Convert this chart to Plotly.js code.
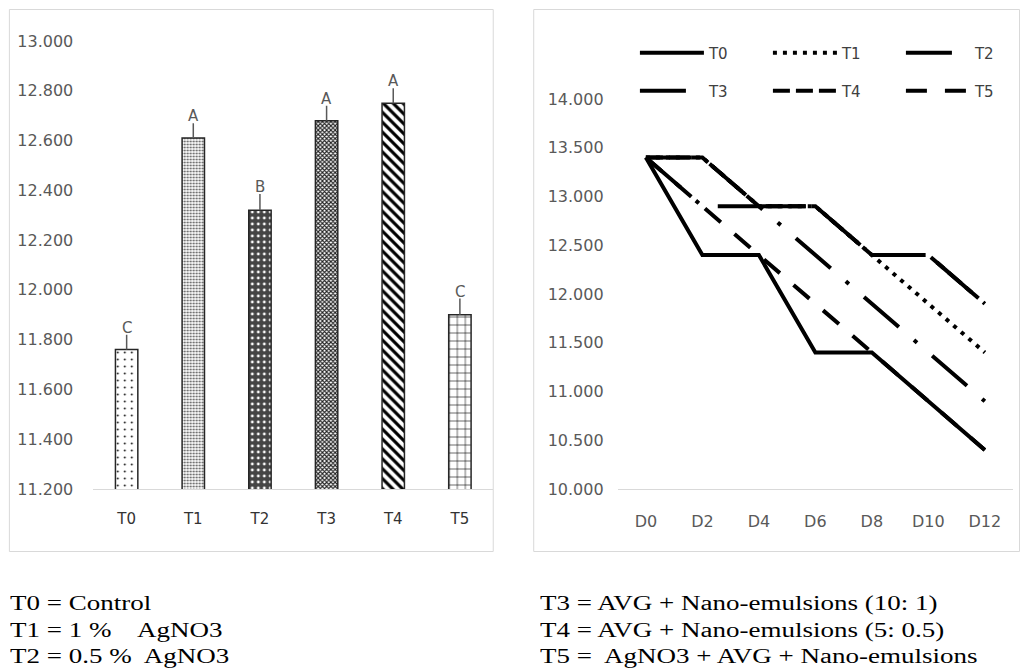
<!DOCTYPE html>
<html>
<head>
<meta charset="utf-8">
<script src="https://cdn.plot.ly/plotly-3.0.1.min.js"></script>
<style>
  html, body { margin: 0; padding: 0; background: #ffffff; overflow: hidden; }
  #wrap { position: relative; width: 1034px; height: 669px; overflow: hidden; background: #fff; }
  #chart { position: absolute; left: 0; top: 0; width: 1034px; height: 560px; }
  .cap { position: absolute; font-family: "Liberation Serif", "Times New Roman", serif; font-size: 20px;
         line-height: 20px; color: #000; white-space: pre; transform: scaleX(1.35); transform-origin: 0 0; }
</style>
</head>
<body>
<div id="wrap">
  <div id="chart"></div>
  <div class="cap" style="left:10px; top:593px;">T0 = Control</div>
  <div class="cap" style="left:10px; top:620px;">T1 = 1 %    AgNO3</div>
  <div class="cap" style="left:10px; top:646px;">T2 = 0.5 %  AgNO3</div>
  <div class="cap" style="left:540px; top:593px;">T3 = AVG + Nano-emulsions (10: 1)</div>
  <div class="cap" style="left:540px; top:620px;">T4 = AVG + Nano-emulsions (5: 0.5)</div>
  <div class="cap" style="left:540px; top:646px;">T5 =  AgNO3 + AVG + Nano-emulsions</div>
</div>
<script>
// ---------- data: left bar chart ----------
const barCategories = ['T0', 'T1', 'T2', 'T3', 'T4', 'T5'];
const barValues = [11.76, 12.61, 12.32, 12.68, 12.75, 11.90];
const barErrors = [0.06, 0.06, 0.065, 0.06, 0.06, 0.065];
const barLetters = ['C', 'A', 'B', 'A', 'A', 'C'];
const leftTickValues = [11.2, 11.4, 11.6, 11.8, 12.0, 12.2, 12.4, 12.6, 12.8, 13.0];

// ---------- data: right line chart ----------
const days = ['D0', 'D2', 'D4', 'D6', 'D8', 'D10', 'D12'];
const seriesNames = ['T0', 'T1', 'T2', 'T3', 'T4', 'T5'];
const lineT0 = [13.4, 12.4, 12.4, 11.4, 11.4, 10.9, 10.4];
const lineT1 = [13.4, 13.4, 12.9, 12.9, 12.4, 11.9, 11.4];
const lineT2 = [13.4, 13.4, 12.9, 12.9, 12.4, 12.4, 11.9];
const lineT3 = [13.4, 12.9, 12.9, 12.4, 11.9, 11.4, 10.9];
const lineT4 = [13.4, 13.4, 12.9, 12.9, 12.4, 12.4, 11.9];
const lineT5 = [13.4, 12.9, 12.4, 11.9, 11.4, 10.9, 10.4];
const rightTickValues = [10, 10.5, 11, 11.5, 12, 12.5, 13, 13.5, 14];

// ---------- styling ----------
const W = 1034, H = 560;
const px = v => v / W;
const py = v => 1 - v / H;
const tickFont = { family: 'DejaVu Sans, Verdana, sans-serif', size: 16, color: '#595959' };

const barPatterns = [
  { shape: '.',  bgcolor: '#ffffff', fgcolor: '#000000', size: 7, solidity: 0.05 },
  { shape: '.',  bgcolor: '#ffffff', fgcolor: '#555555', size: 3, solidity: 0.35 },
  { shape: '.',  bgcolor: '#454545', fgcolor: '#ffffff', size: 6, solidity: 0.18 },
  { shape: 'x',  bgcolor: '#ffffff', fgcolor: '#222222', size: 3, solidity: 0.6 },
  { shape: '\\', bgcolor: '#ffffff', fgcolor: '#000000', size: 7, solidity: 0.45 },
  { shape: '+',  bgcolor: '#ffffff', fgcolor: '#000000', size: 8, solidity: 0.14 }
];

const barTraces = barCategories.map((c, i) => ({
  type: 'bar', x: [c], y: [barValues[i]], xaxis: 'x', yaxis: 'y',
  width: 0.336, showlegend: false, hoverinfo: 'skip',
  marker: {
    color: barPatterns[i].bgcolor,
    line: { color: '#262626', width: 1.5 },
    pattern: Object.assign({ fillmode: 'replace' }, barPatterns[i])
  },
  error_y: { type: 'data', symmetric: false, array: [barErrors[i]], arrayminus: [0],
             color: '#595959', thickness: 1.5, width: 0 }
}));

const lineSeries = [lineT0, lineT1, lineT2, lineT3, lineT4, lineT5];
const dashes = ['solid', '4px,6px', '46px,20px', '46px,20px,4px,20px', '17px,6px', '21px,18px'];
const legends = ['legend', 'legend', 'legend', 'legend2', 'legend2', 'legend2'];
const lineTraces = lineSeries.map((ys, i) => ({
  type: 'scatter', mode: 'lines', x: days, y: ys, name: seriesNames[i],
  xaxis: 'x2', yaxis: 'y2', legend: legends[i], hoverinfo: 'skip',
  line: { color: '#000000', width: 4, dash: dashes[i] }
}));

const annotations = barCategories.map((c, i) => ({
  x: c, y: barValues[i] + barErrors[i], xref: 'x', yref: 'y', text: barLetters[i],
  showarrow: false, yanchor: 'bottom', yshift: -4,
  font: { family: 'DejaVu Sans, Verdana, sans-serif', size: 15, color: '#595959' }
}));

const frame = { type: 'rect', xref: 'paper', yref: 'paper', line: { color: '#d9d9d9', width: 1 }, fillcolor: 'rgba(0,0,0,0)', layer: 'below' };

const legendCommon = {
  orientation: 'h', xanchor: 'left', yanchor: 'middle', x: px(643),
  itemwidth: 64, entrywidth: 54, entrywidthmode: 'pixels',
  bgcolor: 'rgba(0,0,0,0)', borderwidth: 0, traceorder: 'normal',
  font: { family: 'DejaVu Sans, Verdana, sans-serif', size: 15, color: '#404040' }
};

const layout = {
  width: W, height: H, autosize: false,
  margin: { l: 0, r: 0, t: 0, b: 0, pad: 0 },
  paper_bgcolor: '#ffffff', plot_bgcolor: 'rgba(0,0,0,0)',
  showlegend: true,
  barmode: 'overlay',
  xaxis: { domain: [px(94.5), px(499.5)], anchor: 'y', type: 'category', range: [-0.5, 5.5],
           showline: true, linecolor: '#d9d9d9', linewidth: 1, showgrid: false, zeroline: false,
           ticks: '', ticklabelstandoff: 16, fixedrange: true,
           tickfont: { family: 'DejaVu Sans, Verdana, sans-serif', size: 15, color: '#333333' } },
  yaxis: { domain: [py(489), py(41)], anchor: 'x', range: [11.2, 13.0],
           tickvals: leftTickValues, tickformat: '.3f', showgrid: false, zeroline: false,
           showline: false, ticks: '', ticklabelstandoff: 19, tickfont: tickFont, fixedrange: true },
  xaxis2: { domain: [px(625.5), px(1026)], anchor: 'y2', type: 'category', range: [-0.5, 6.5],
            showline: true, linecolor: '#d9d9d9', linewidth: 1, showgrid: false, zeroline: false,
            ticks: '', ticklabelstandoff: 18, tickfont: tickFont, fixedrange: true },
  yaxis2: { domain: [py(489), py(99)], anchor: 'x2', range: [10, 14],
            tickvals: rightTickValues, tickformat: '.3f', showgrid: false, zeroline: false,
            showline: false, ticks: '', ticklabelstandoff: 13, tickfont: tickFont, fixedrange: true },
  legend: Object.assign({}, legendCommon, { y: py(53) }),
  legend2: Object.assign({}, legendCommon, { y: py(91) }),
  annotations: annotations,
  shapes: [
    Object.assign({}, frame, { x0: px(9.5), x1: px(499.5), y0: py(551.5), y1: py(9.5) }),
    Object.assign({}, frame, { x0: px(540.5), x1: px(1032.5), y0: py(551.5), y1: py(9.5) })
  ]
};

Plotly.newPlot('chart', barTraces.concat(lineTraces), layout, { staticPlot: true, displayModeBar: false });
</script>
</body>
</html>
